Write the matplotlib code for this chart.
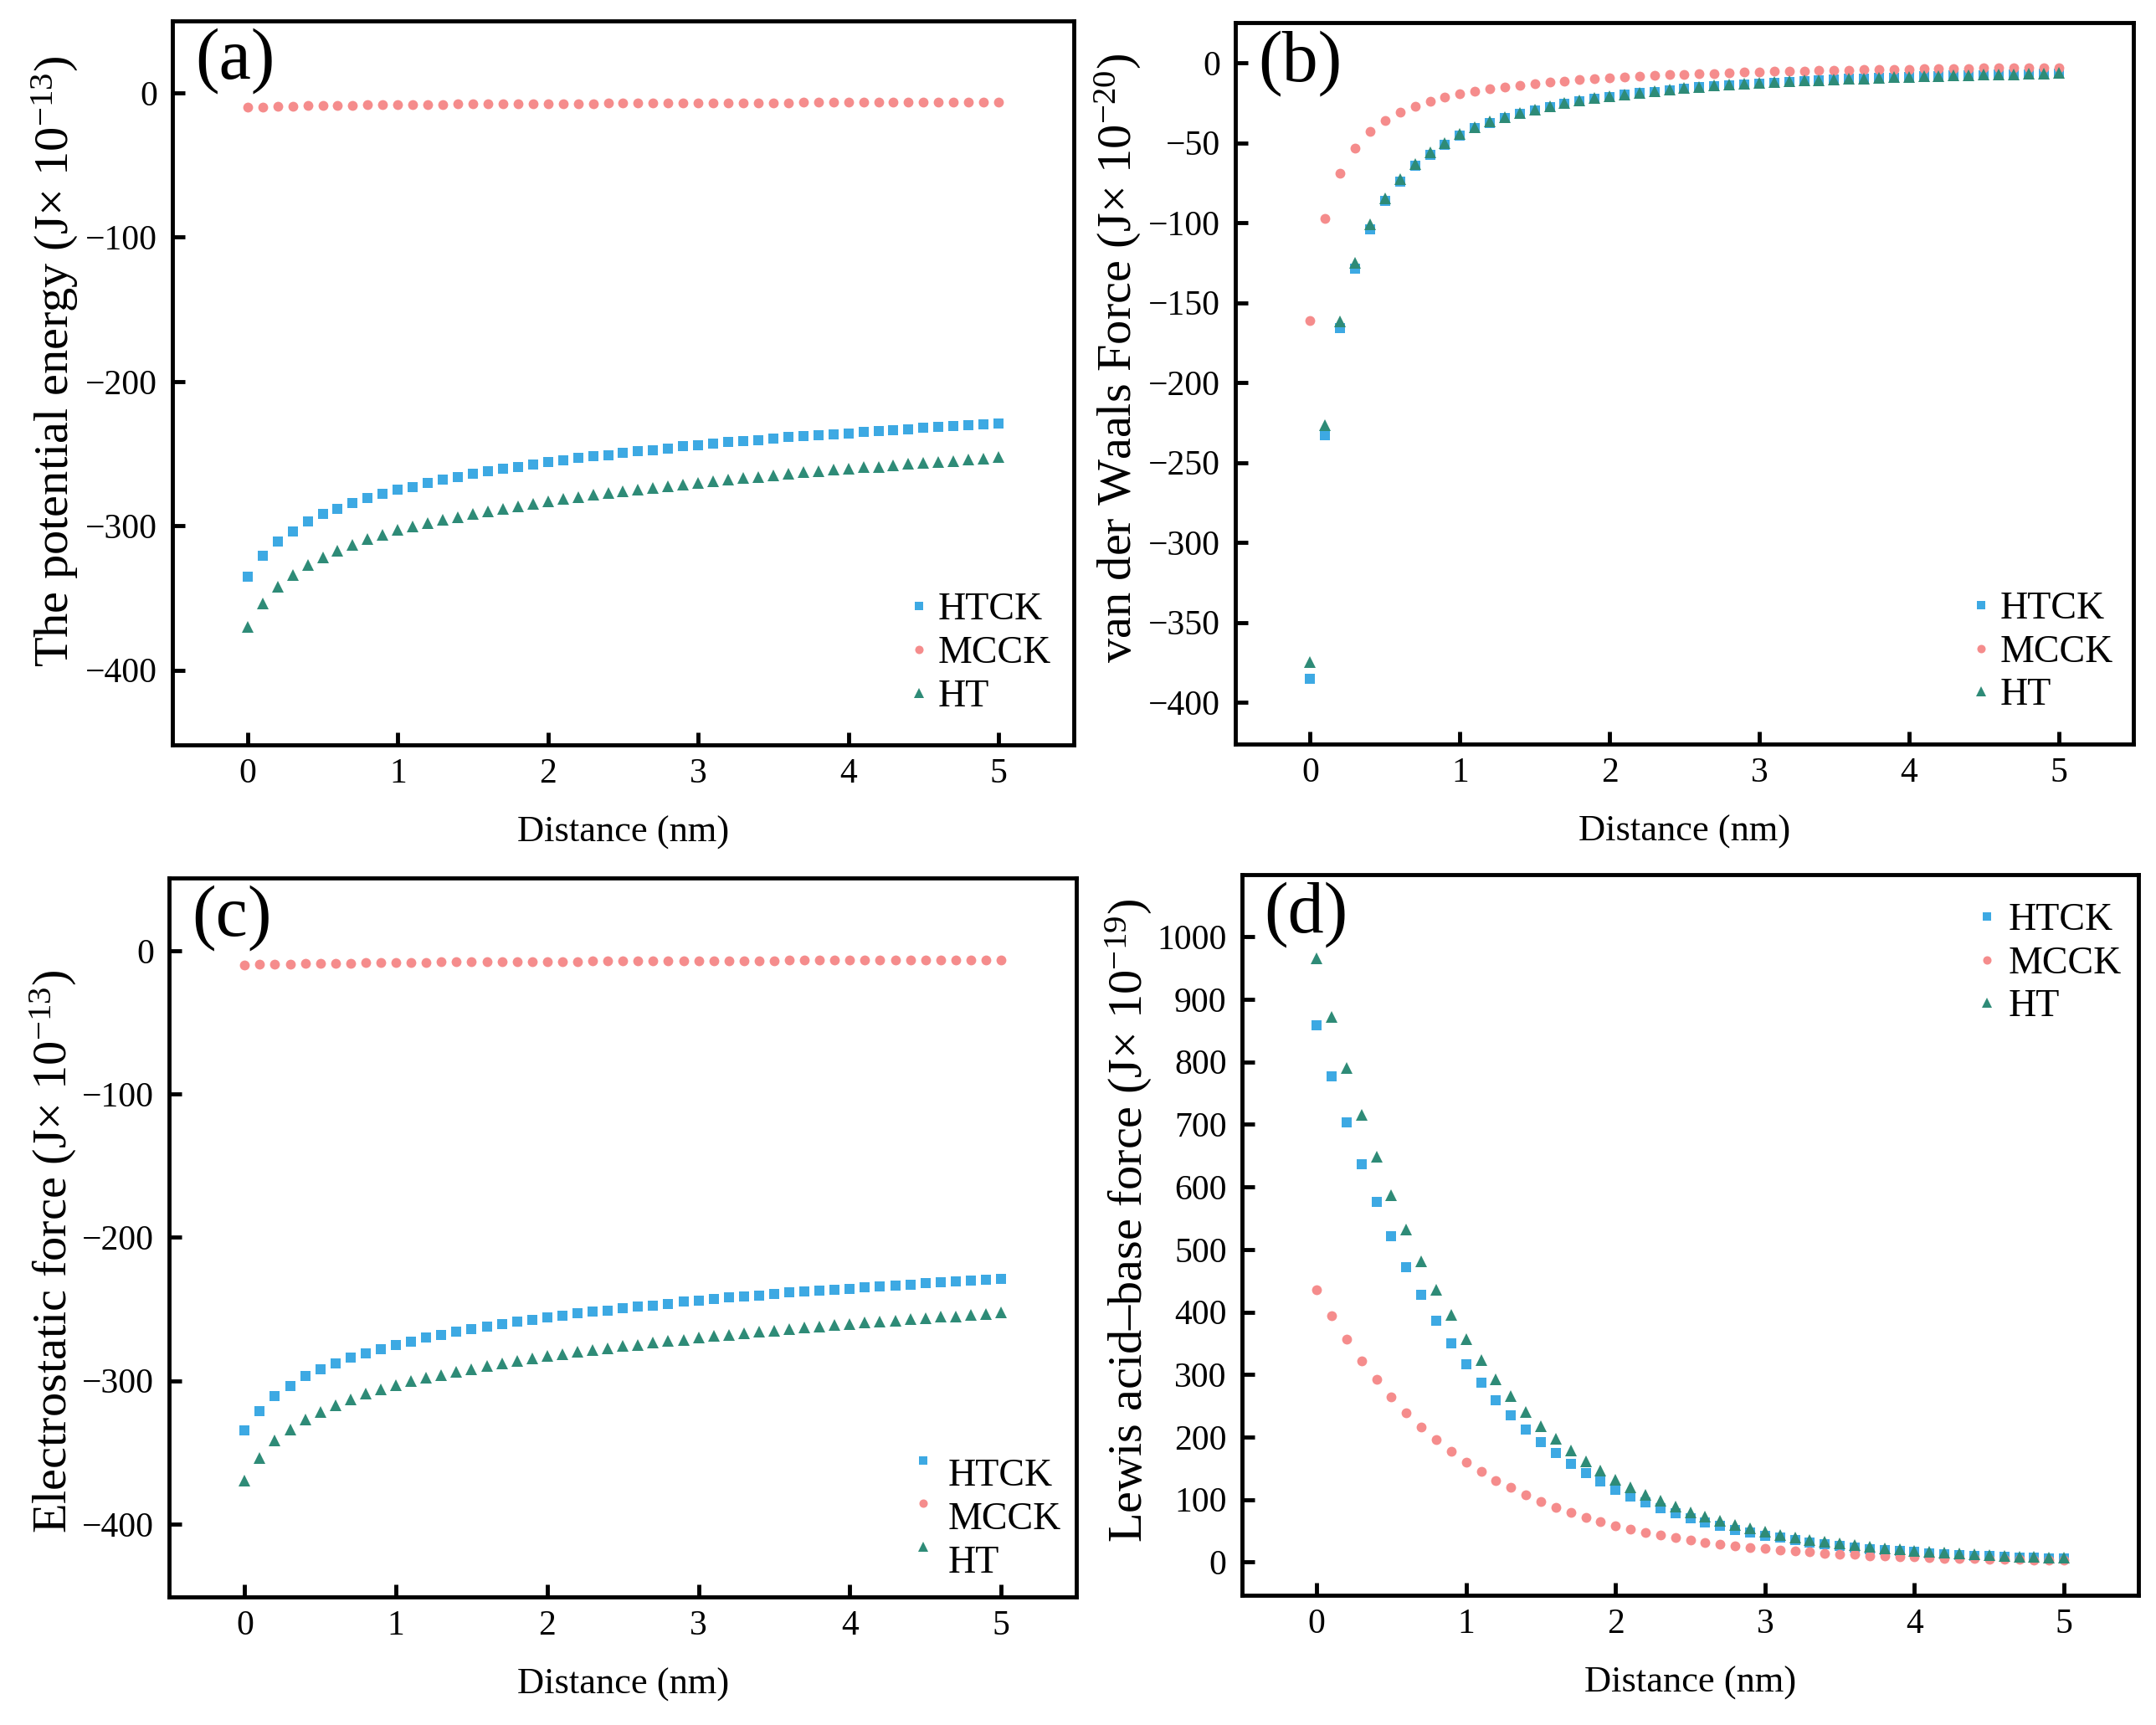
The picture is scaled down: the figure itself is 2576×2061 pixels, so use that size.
import numpy as np
import matplotlib
matplotlib.use("Agg")
import matplotlib.pyplot as plt
from matplotlib.legend_handler import HandlerLine2D

plt.rcParams['font.family'] = ['Liberation Serif', 'DejaVu Serif']
plt.rcParams['mathtext.fontset'] = 'custom'
plt.rcParams['mathtext.rm'] = 'Liberation Serif'
plt.rcParams['mathtext.it'] = 'Liberation Serif:italic'

# distance axis, 0 to 5 nm in 0.1 nm steps
distance = np.round(np.arange(0, 5.01, 0.1), 1)

# (a) potential energy (J x 1e-13)
pe_htck = [-335, -321, -311, -304, -297, -292, -288, -284, -281, -278,
           -275, -273, -270, -268, -266, -264, -262, -260.5, -259, -257.5,
           -256, -254.5, -253, -252, -251, -249.5, -248.5, -247.5, -246.5, -245,
           -244, -243, -242, -241, -240.5, -239.5, -238.5, -238, -237, -236.5,
           -236, -235, -234.5, -233.5, -233, -232, -231.5, -231, -230, -229.5,
           -229]
pe_mcck = [-10.0, -9.6, -9.3, -9.1, -8.9, -8.8, -8.6, -8.5, -8.4, -8.3,
           -8.2, -8.1, -8.0, -7.9, -7.85, -7.8, -7.7, -7.65, -7.6, -7.5,
           -7.45, -7.4, -7.35, -7.3, -7.25, -7.2, -7.15, -7.1, -7.05, -7.0,
           -6.95, -6.9, -6.85, -6.8, -6.78, -6.75, -6.7, -6.65, -6.62, -6.6,
           -6.55, -6.5, -6.48, -6.45, -6.4, -6.38, -6.35, -6.3, -6.28, -6.25,
           -6.2]
pe_ht = [-370, -354, -342, -334, -327, -322, -317, -313, -309, -306,
         -303, -300.5, -298, -296, -294, -292, -290, -288, -286.5, -284.5,
         -283, -281.5, -280, -278.5, -277.5, -276, -275, -273.5, -272.5, -271.5,
         -270, -269, -268, -267, -266, -265, -264, -263, -262, -261,
         -260.5, -259.5, -259, -258, -257, -256.5, -255.5, -255, -254, -253.5,
         -252.5]

# (b) van der Waals force (J x 1e-20)
vdw_htck = [-385, -233, -166, -128.5, -104, -86.5, -74, -64.5, -57.5, -51,
            -45.5, -41, -37.5, -34.5, -32, -29.5, -27.5, -25.5, -24, -22.5,
            -21.5, -20, -19, -18, -17, -16, -15.3, -14.6, -14, -13.4,
            -12.8, -12.3, -11.8, -11.3, -10.9, -10.5, -10.1, -9.8, -9.4, -9.1,
            -8.8, -8.5, -8.3, -8.0, -7.8, -7.6, -7.4, -7.2, -7.0, -6.8,
            -6.6]
vdw_mcck = [-161, -97.5, -69, -53.5, -43, -36, -31, -27, -24, -21.5,
            -19.5, -17.8, -16.3, -15, -13.9, -12.9, -12.0, -11.2, -10.5, -9.9,
            -9.3, -8.8, -8.3, -7.9, -7.5, -7.1, -6.8, -6.5, -6.2, -5.9,
            -5.7, -5.4, -5.2, -5.0, -4.8, -4.6, -4.45, -4.3, -4.15, -4.0,
            -3.85, -3.7, -3.6, -3.5, -3.4, -3.3, -3.2, -3.1, -3.0, -2.9,
            -2.8]
vdw_ht = [-375, -226.5, -161.5, -125, -101, -84.5, -72.5, -63, -56, -50,
          -44.5, -40.2, -36.8, -33.8, -31.3, -29, -27, -25, -23.5, -22.1,
          -21, -19.6, -18.6, -17.6, -16.7, -15.7, -15, -14.3, -13.7, -13.1,
          -12.5, -12.0, -11.5, -11.1, -10.7, -10.3, -9.9, -9.6, -9.2, -8.9,
          -8.6, -8.3, -8.1, -7.8, -7.6, -7.4, -7.2, -7.0, -6.8, -6.6,
          -6.4]

# (c) electrostatic force (J x 1e-13), same curves as (a)
es_htck = list(pe_htck)
es_mcck = list(pe_mcck)
es_ht = list(pe_ht)

# (d) Lewis acid-base force (J x 1e-19)
ab_htck = [858, 777, 703, 636, 576, 521, 472, 427, 386, 350,
           316, 287, 259, 235, 212, 192, 174, 157, 142, 129,
           116, 105, 95, 86, 78, 70, 64, 58, 52, 47,
           42.5, 39, 35, 32, 29, 26, 23.5, 21, 19, 17.5,
           16, 14.5, 13, 11.5, 10.5, 9.5, 8.5, 7.5, 7, 6.5,
           6]
ab_mcck = [435, 394, 356, 322, 292, 264, 239, 216, 196, 177,
           160, 145, 131, 119, 108, 97, 88, 80, 72, 65,
           58.5, 53, 48, 43.5, 39.5, 35.5, 32, 29, 26, 23.5,
           21.5, 19.5, 17.5, 16, 14.5, 13, 12, 10.5, 9.5, 8.5,
           8, 7, 6.5, 6, 5.5, 5, 4.5, 4, 3.5, 3.2,
           3]
ab_ht = [965, 872, 790, 715, 648, 587, 532, 481, 436, 395,
         357, 323, 292, 265, 240, 217, 197, 178, 161, 146,
         132, 120, 108, 98, 89, 80, 73, 66, 60, 54,
         49, 44, 40, 36, 33, 30, 27, 24.5, 22, 20,
         18, 16.5, 15, 13.5, 12, 11, 10, 9, 8, 7.5,
         7]

series_names = ['HTCK', 'MCCK', 'HT']
colors = ['#3DA9E3', '#F58C8C', '#2E8B77']
markers = ['s', 'o', '^']
msizes = [8.0, 8.5, 10.0]


class RaisedMarker(HandlerLine2D):
    # legend marker sitting a bit above the text line, as in panel (c)
    def create_artists(self, legend, orig_handle, xdescent, ydescent,
                       width, height, fontsize, trans):
        arts = super().create_artists(legend, orig_handle, xdescent, ydescent,
                                      width, height, fontsize, trans)
        for a in arts:
            a.set_ydata(np.asarray(a.get_ydata()) + 0.45 * height)
        return arts


fig = plt.figure(figsize=(25.76, 20.61), dpi=100)

panels = [
    dict(rect=[0.080, 0.568, 0.418, 0.420], data=[pe_htck, pe_mcck, pe_ht],
         ylabel='The potential energy (J× 10$^{-13}$)', tag='(a)',
         ylim=(-452, 50), yticks=np.arange(-400, 1, 100), lab_xy=(-0.102, 0.53),
         leg=dict(loc='lower right', bbox_to_anchor=(1.009, 0.0)), raised=False,
         pad=0.2),
    dict(rect=[0.573, 0.5687, 0.4165, 0.418], data=[vdw_htck, vdw_mcck, vdw_ht],
         ylabel='van der Waals Force (J× 10$^{-20}$)', tag='(b)',
         ylim=(-426, 25), yticks=np.arange(-400, 1, 50), lab_xy=(-0.1025, 0.535),
         leg=dict(loc='lower right', bbox_to_anchor=(1.012, 0.0)), raised=False,
         pad=0.2),
    dict(rect=[0.0784, 0.0742, 0.421, 0.417], data=[es_htck, es_mcck, es_ht],
         ylabel='Electrostatic force (J× 10$^{-13}$)', tag='(c)',
         ylim=(-451, 51), yticks=np.arange(-400, 1, 100), lab_xy=(-0.0995, 0.48),
         leg=dict(loc='lower right', bbox_to_anchor=(1.017, -0.02)), raised=True,
         pad=0.35),
    dict(rect=[0.576, 0.0752, 0.416, 0.418], data=[ab_htck, ab_mcck, ab_ht],
         ylabel='Lewis acid–base force (J× 10$^{-19}$)', tag='(d)',
         ylim=(-53, 1100), yticks=np.arange(0, 1001, 100), lab_xy=(-0.098, 0.52),
         leg=dict(loc='upper right', bbox_to_anchor=(1.015, 1.003)), raised=False,
         pad=0.25),
]

for p in panels:
    ax = fig.add_axes(p['rect'])
    for vals, name, c, m, ms in zip(p['data'], series_names, colors, markers, msizes):
        ax.plot(distance, vals, linestyle='none', marker=m, ms=ms, color=c,
                markeredgewidth=0, label=name)
    ax.set_xlim(-0.5, 5.5)
    ax.set_ylim(*p['ylim'])
    ax.set_xticks(range(0, 6))
    ax.set_yticks(p['yticks'])
    ax.tick_params(direction='in', length=11, width=3.5, labelsize=30, pad=13)
    ax.tick_params(axis='x', pad=11)
    for s in ax.spines.values():
        s.set_linewidth(3.5)
    ax.set_xlabel('Distance (nm)', fontsize=32, labelpad=22)
    ax.set_ylabel(p['ylabel'], fontsize=42)
    ax.yaxis.set_label_coords(*p['lab_xy'])
    ax.text(0.025, 0.99, p['tag'], transform=ax.transAxes, fontsize=62,
            ha='left', va='top')
    kw = dict(frameon=False, fontsize=33, markerscale=0.85, handlelength=0.6,
              handletextpad=p['pad'], labelspacing=0.2, borderpad=0.3)
    if p['raised']:
        kw['handler_map'] = {matplotlib.lines.Line2D: RaisedMarker()}
    ax.legend(**kw, **p['leg'])

fig.savefig('out.png', dpi=100)
